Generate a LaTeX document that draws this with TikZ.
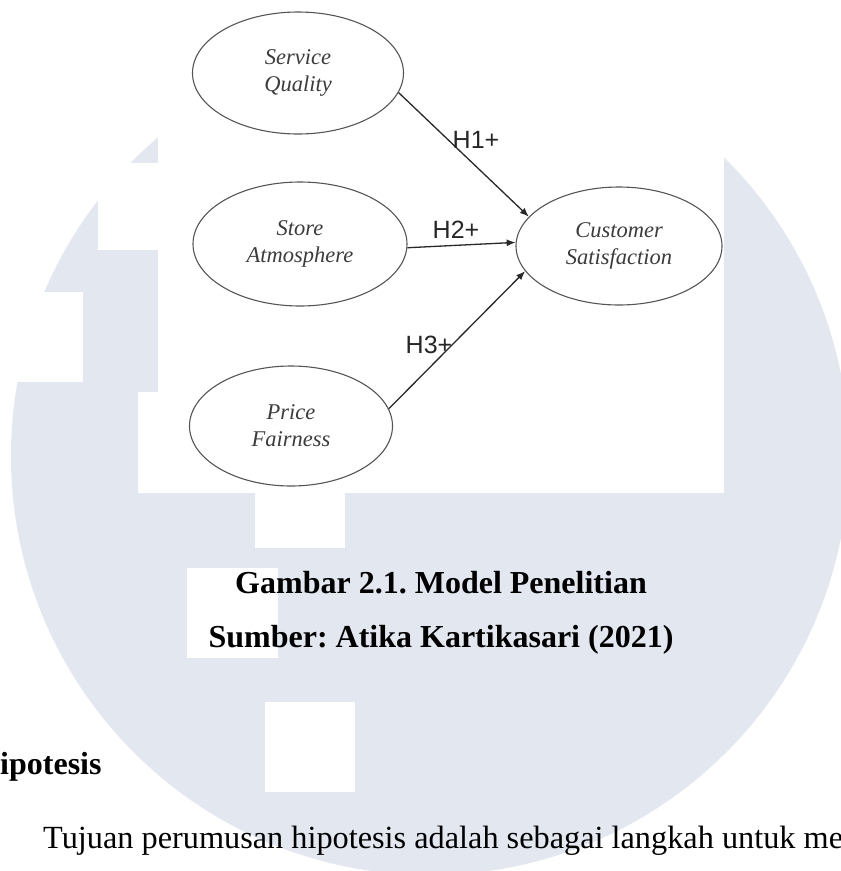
\documentclass[tikz,border=0pt]{standalone}
\usepackage{fontspec}
\setmainfont{Liberation Serif}
\newfontfamily\hlabelfont{Liberation Sans}
\usetikzlibrary{shapes.geometric, arrows.meta}
\definecolor{wm}{RGB}{227,231,240}
\definecolor{ringgray}{RGB}{85,85,85}
\definecolor{txtgray}{RGB}{60,60,60}
\definecolor{arrowgray}{RGB}{40,40,40}
\frenchspacing
\tikzset{
  construct/.style={ellipse, draw=ringgray, line width=1.1pt, inner sep=0pt,
    text=txtgray, align=center,
    font=\itshape\fontsize{22.5}{27}\selectfont},
  hyparrow/.style={draw=arrowgray, line width=1.3pt, -{Latex[length=9pt,width=7pt]}},
  hyplabel/.style={font=\hlabelfont\fontsize{25}{28}\selectfont, text=black!85, inner sep=0pt},
  capline/.style={font=\bfseries\fontsize{32}{38}\selectfont, anchor=base, inner sep=0pt},
  whitepatch/.style={fill=white}
}
\begin{document}
\begin{tikzpicture}[x=1pt,y=-1pt]
\useasboundingbox (0,0) rectangle (841,871);
\clip (0,0) rectangle (841,871);
\fill[white] (0,0) rectangle (841,871);
% watermark
\fill[wm] (430,456) circle[radius=419pt];
\fill[whitepatch] (158,0) rectangle (724,493);
\fill[whitepatch] (98,163) rectangle (158,250);
\fill[whitepatch] (0,292) rectangle (83,382);
\fill[whitepatch] (138,392) rectangle (158,493);
\fill[whitepatch] (255,493) rectangle (345,548);
\fill[whitepatch] (187,568) rectangle (278,658);
\fill[whitepatch] (265,702) rectangle (355,792);

% constructs
\node[construct, minimum width=211pt, minimum height=122pt] (sq) at (298,73) {Service\\Quality};
\node[construct, minimum width=214pt, minimum height=124pt] (sa) at (300,244) {Store\\Atmosphere};
\node[construct, minimum width=203pt, minimum height=120pt] (pf) at (291,426) {Price\\Fairness};
\node[construct, minimum width=206pt, minimum height=118pt] (cs) at (619,246) {Customer\\Satisfaction};

% hypotheses
\draw[hyparrow] (sq.-11) -- (cs.162);
\draw[hyparrow] (sa.-2) -- (cs.178);
\draw[hyparrow] (pf.10) -- (cs.195);
\node[hyplabel] (h1) at (476,140) {H1+};
\node[hyplabel] (h2) at (456,230) {H2+};
\node[hyplabel] (h3) at (429,345) {H3+};

% caption and text
\node[capline] (cap1) at (441,593) {Gambar 2.1. Model Penelitian};
\node[capline] (cap2) at (441,647) {Sumber: Atika Kartikasari (2021)};
\node[font=\bfseries\fontsize{32}{38}\selectfont, anchor=base west, inner sep=0pt] (sec) at (0,774) {ipotesis};
\node[font=\fontsize{32.3}{38}\selectfont, anchor=base west, inner sep=0pt] (body) at (43,848) {Tujuan perumusan hipotesis adalah sebagai langkah untuk men};
\end{tikzpicture}
\end{document}
